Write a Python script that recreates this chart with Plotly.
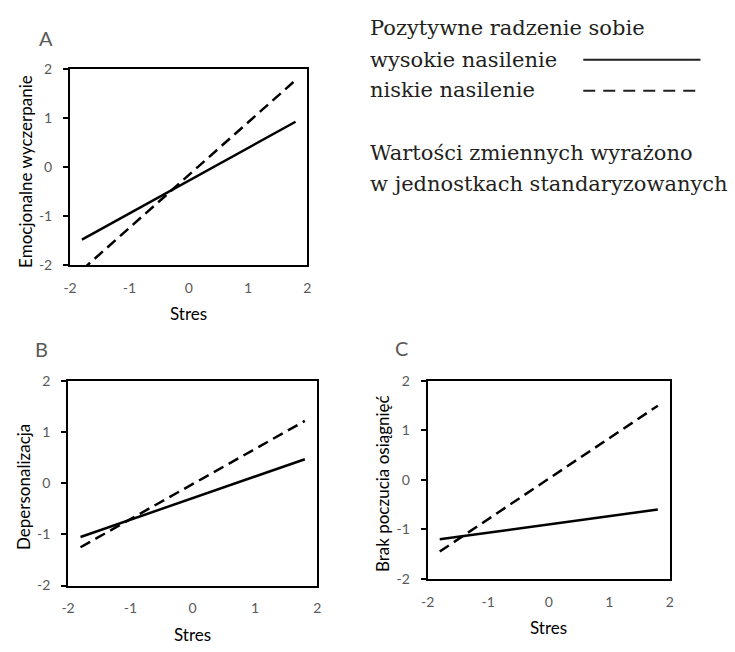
import plotly.graph_objects as go

W, H = 735, 652

# Data (standardized units)
stres = [-1.8, 1.8]
A_high = [-1.48, 0.93]
A_low = [-2.10, 1.78]
B_high = [-1.05, 0.47]
B_low = [-1.25, 1.22]
C_high = [-1.20, -0.60]
C_low = [-1.45, 1.50]
tick_vals = [-2, -1, 0, 1, 2]
tick_text = ["-2", "-1", "0", "1", "2"]

panels = [
    ("A", "Emocjonalne wyczerpanie", A_high, A_low),
    ("B", "Depersonalizacja", B_high, B_low),
    ("C", "Brak poczucia osiągnięć", C_high, C_low),
]

# pixel boxes (left, right, top, bottom)
boxes = [(64, 305, 62, 263), (62, 315, 382, 592), (427, 673, 382, 585)]

def px(x):
    return x / W

def py(y):
    return 1 - y / H

fig = go.Figure()
DASH = "11px,6px"
LW = 2.5
gray = "#595959"
tickfont = dict(family="Lato", size=14, color=gray)

for i, ((letter, ytitle, hi, lo), (l, r, t, b)) in enumerate(zip(panels, boxes)):
    n = "" if i == 0 else str(i + 1)
    xa = "x" + n
    ya = "y" + n
    fig.add_trace(go.Scatter(x=stres, y=hi, mode="lines", xaxis=xa, yaxis=ya,
                             line=dict(color="black", width=LW), showlegend=False,
                             hoverinfo="skip"))
    fig.add_trace(go.Scatter(x=stres, y=lo, mode="lines", xaxis=xa, yaxis=ya,
                             line=dict(color="black", width=LW, dash=DASH), showlegend=False,
                             hoverinfo="skip"))
    common = dict(showline=True, linecolor="black", linewidth=2, mirror=True,
                  showgrid=False, zeroline=False, range=[-2, 2],
                  tickvals=tick_vals, ticktext=tick_text, tickfont=tickfont)
    fig.layout["xaxis" + n] = dict(domain=[px(l), px(r)], anchor=ya, ticks="",
                                   ticklabelstandoff=9, **common)
    fig.layout["yaxis" + n] = dict(domain=[py(b), py(t)], anchor=xa, ticks="outside",
                                   ticklen=5, tickwidth=1.5, tickcolor="black",
                                   ticklabelstandoff=8, **common)
    cx = (l + r) / 2
    cy = (t + b) / 2
    fig.add_annotation(x=px(cx), y=py(b + 50), xref="paper", yref="paper",
                       text="Stres", showarrow=False,
                       font=dict(family="Lato", size=17, color="black"),
                       xanchor="center", yanchor="middle")
    fig.add_annotation(x=px(l - 46), y=py(cy + 4), xref="paper", yref="paper",
                       text=ytitle, showarrow=False, textangle=-90,
                       font=dict(family="Lato", size=17, color="black"),
                       xanchor="center", yanchor="middle")

letters_pos = [("A", 40, 30), ("B", 35, 349), ("C", 400, 348)]
for txt, x, y in letters_pos:
    fig.add_annotation(x=px(x), y=py(y), xref="paper", yref="paper", text=txt,
                       showarrow=False, font=dict(family="Lato", size=20, color=gray),
                       xanchor="center", yanchor="middle")

# Legend / note text
serif = dict(family="DejaVu Serif", size=21, color="#231f20")
legend_lines = [
    ("Pozytywne radzenie sobie", 20),
    ("wysokie nasilenie", 52),
    ("niskie nasilenie", 83),
    ("Wartości zmiennych wyrażono", 148),
    ("w jednostkach standaryzowanych", 180),
]
for txt, y in legend_lines:
    fig.add_annotation(x=px(366), y=py(y), xref="paper", yref="paper", text=txt,
                       showarrow=False, font=serif, xanchor="left", yanchor="middle")

fig.add_shape(type="line", xref="paper", yref="paper", x0=px(585), x1=px(704),
              y0=py(52), y1=py(52), line=dict(color="#231f20", width=2))
fig.add_shape(type="line", xref="paper", yref="paper", x0=px(585), x1=px(704),
              y0=py(84), y1=py(84), line=dict(color="#231f20", width=2, dash="12px,8px"))

fig.update_layout(width=W, height=H, margin=dict(l=0, r=0, t=0, b=0),
                  plot_bgcolor="white", paper_bgcolor="white", showlegend=False)

fig.write_html("out.html", config={"displayModeBar": False},
               post_script="document.body.style.margin='0px';")
